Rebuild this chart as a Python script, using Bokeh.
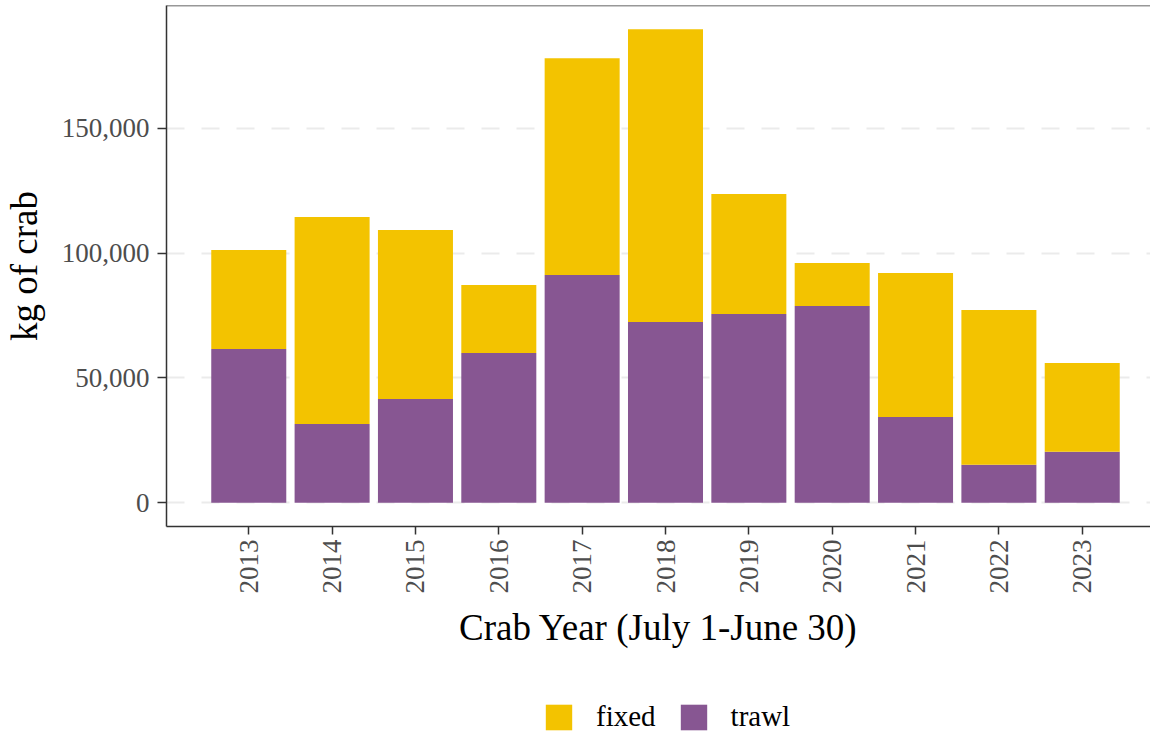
import math
from bokeh.plotting import figure
from bokeh.layouts import column
from bokeh.models import (ColumnDataSource, FixedTicker, NumeralTickFormatter,
                          Legend, LegendItem, Span, Range1d)
from bokeh.embed import file_html
from bokeh.resources import INLINE

# ---- data ----
years = [2013, 2014, 2015, 2016, 2017, 2018, 2019, 2020, 2021, 2022, 2023]
trawl = [61600, 31600, 41600, 60000, 91200, 72400, 75600, 78800, 34400, 15200, 20400]
fixed = [39600, 82800, 67600, 27200, 86800, 117200, 48000, 17200, 57600, 62000, 35600]
y_ticks = [0, 50000, 100000, 150000]
year_labels = [str(y) for y in years]
series_names = ["fixed", "trawl"]

FONT = "Liberation Serif"
YELLOW = "#F3C300"
PURPLE = "#875692"

source = ColumnDataSource(dict(year=years, trawl=trawl, fixed=fixed))

total_max = max(t + f for t, f in zip(trawl, fixed))
pad = 0.05 * total_max

p = figure(frame_width=984, frame_height=521, output_backend="svg", toolbar_location=None,
           x_range=Range1d(2012.013, 2023.819),
           y_range=Range1d(-pad, total_max + pad),
           min_border_left=158, min_border_right=0, min_border_top=5,
           min_border_bottom=169)

p.outline_line_color = None
p.background_fill_color = "white"
p.border_fill_color = "white"

renderers = p.vbar_stack(["trawl", "fixed"], x="year", width=0.9,
                         color=[PURPLE, YELLOW], line_color=None, source=source)

# top border of panel
p.add_layout(Span(location=total_max + pad, dimension="width",
                  line_color="#333333", line_width=1.5))

# grids
p.xgrid.grid_line_color = None
p.ygrid.grid_line_color = "#EBEBEB"
p.ygrid.grid_line_width = 2
p.ygrid.grid_line_dash = "18 17"
p.ygrid.ticker = FixedTicker(ticks=y_ticks)

# y axis
p.yaxis.ticker = FixedTicker(ticks=y_ticks)
p.yaxis.formatter = NumeralTickFormatter(format="0,0")
p.yaxis.axis_label = "kg of crab"
p.yaxis.axis_label_text_font = FONT
p.yaxis.axis_label_text_font_size = "37px"
p.yaxis.axis_label_text_font_style = "normal"
p.yaxis.axis_label_text_color = "black"
p.yaxis.axis_label_standoff = 14
p.yaxis.major_label_text_font = FONT
p.yaxis.major_label_text_font_size = "27px"
p.yaxis.major_label_text_color = "#4D4D4D"
p.yaxis.major_label_standoff = 8
p.yaxis.major_tick_out = 9
p.yaxis.major_tick_in = 0
p.yaxis.minor_tick_out = 0
p.yaxis.minor_tick_in = 0
p.yaxis.major_tick_line_color = "#333333"
p.yaxis.major_tick_line_width = 1.5
p.yaxis.axis_line_color = "#333333"
p.yaxis.axis_line_width = 1.5

# x axis
p.xaxis.ticker = FixedTicker(ticks=years)
p.xaxis.major_label_overrides = {y: s for y, s in zip(years, year_labels)}
p.xaxis.major_label_orientation = math.pi / 2
p.xaxis.axis_label = "Crab Year (July 1-June 30)"
p.xaxis.axis_label_text_font = FONT
p.xaxis.axis_label_text_font_size = "37px"
p.xaxis.axis_label_text_font_style = "normal"
p.xaxis.axis_label_text_color = "black"
p.xaxis.axis_label_standoff = 10
p.xaxis.major_label_text_font = FONT
p.xaxis.major_label_text_font_size = "27px"
p.xaxis.major_label_text_color = "#4D4D4D"
p.xaxis.major_label_standoff = 5
p.xaxis.major_tick_out = 8
p.xaxis.major_tick_in = 0
p.xaxis.minor_tick_out = 0
p.xaxis.minor_tick_in = 0
p.xaxis.major_tick_line_color = "#333333"
p.xaxis.major_tick_line_width = 1.5
p.xaxis.axis_line_color = "#333333"
p.xaxis.axis_line_width = 1.5

# legend strip (separate small figure below the plot, frame aligned with the plot)
lg = figure(width=1145, height=38, output_backend="svg", toolbar_location=None,
            x_axis_type=None, y_axis_type=None,
            min_border_left=0, min_border_right=0, min_border_top=0, min_border_bottom=0)
lg.outline_line_color = None
lg.xgrid.grid_line_color = None
lg.ygrid.grid_line_color = None
lg.border_fill_color = "white"
lg.background_fill_color = "white"
nan = float("nan")
r_fixed = lg.vbar(x=[nan], top=[nan], width=0.9, fill_color=YELLOW, line_color=None)
r_trawl = lg.vbar(x=[nan], top=[nan], width=0.9, fill_color=PURPLE, line_color=None)

legend = Legend(items=[LegendItem(label=series_names[0], renderers=[r_fixed]),
                       LegendItem(label=series_names[1], renderers=[r_trawl])],
                orientation="horizontal", location=(376, 0),
                label_text_font=FONT, label_text_font_size="29px",
                label_text_color="black",
                glyph_width=33, glyph_height=32, label_height=32,
                label_standoff=21, spacing=21, padding=0, margin=0,
                border_line_color=None, background_fill_alpha=0)
lg.add_layout(legend, "center")

layout = column(p, lg, spacing=0)
open("out.html", "w").write(file_html(layout, INLINE))
